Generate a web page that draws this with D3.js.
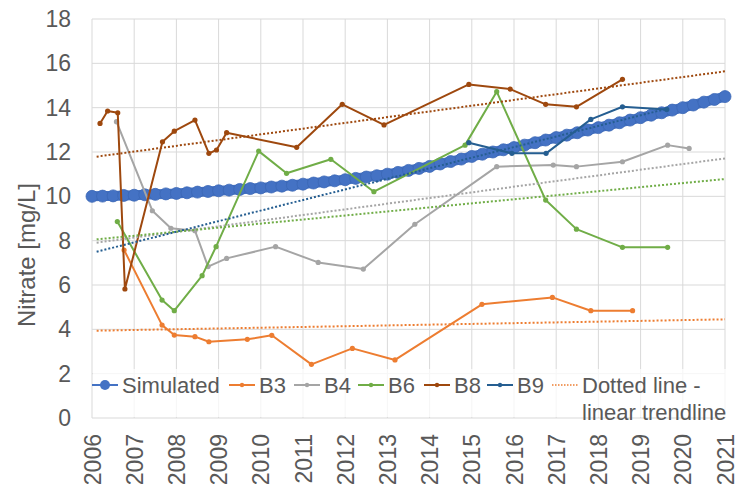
<!DOCTYPE html>
<html>
<head>
<meta charset="utf-8">
<script src="https://cdn.jsdelivr.net/npm/d3@7"></script>
<style>
  body { margin: 0; background: #fff; }
  svg { font-family: "Liberation Sans", Arial, sans-serif; }
</style>
</head>
<body>
<div id="vis"></div>
<script>
// chart size + plot area
const WIDTH = 738;
const HEIGHT = 495;
const PLOT = {left: 92, right: 725, top: 19, bottom: 418};

// axis ticks
const yTicks = [0, 2, 4, 6, 8, 10, 12, 14, 16, 18];
const years = [2006, 2007, 2008, 2009, 2010, 2011, 2012, 2013, 2014, 2015, 2016, 2017, 2018, 2019, 2020, 2021];

// simulated nitrate, quarterly from 2006
const simStart = 2006;
const simulated = [
  10.00, 10.01, 10.02, 10.04,
  10.05, 10.07, 10.09, 10.11,
  10.13, 10.16, 10.19, 10.22,
  10.25, 10.28, 10.31, 10.35,
  10.38, 10.42, 10.46, 10.50,
  10.55, 10.60, 10.65, 10.70,
  10.75, 10.81, 10.87, 10.93,
  11.00, 11.08, 11.17, 11.26,
  11.35, 11.46, 11.57, 11.68,
  11.80, 11.90, 12.00, 12.10,
  12.20, 12.31, 12.42, 12.54,
  12.65, 12.76, 12.87, 12.99,
  13.10, 13.21, 13.32, 13.44,
  13.55, 13.66, 13.77, 13.89,
  14.00, 14.12, 14.25, 14.37,
  14.50
];

// observed wells [year, mg/L]
const b3 = [[2006.76, 7.58], [2007.66, 4.19], [2007.95, 3.74], [2008.44, 3.67], [2008.77, 3.44],
  [2009.68, 3.55], [2010.26, 3.73], [2011.20, 2.42], [2012.17, 3.14], [2013.18, 2.62],
  [2015.24, 5.13], [2016.91, 5.44], [2017.82, 4.84], [2018.81, 4.84]];
const b4 = [[2006.58, 13.37], [2007.43, 9.35], [2007.87, 8.56], [2008.44, 8.45], [2008.75, 6.83],
  [2009.19, 7.20], [2010.35, 7.73], [2011.36, 7.02], [2012.43, 6.72], [2013.65, 8.74],
  [2015.59, 11.34], [2016.93, 11.41], [2017.48, 11.34], [2018.57, 11.56], [2019.64, 12.31], [2020.15, 12.16]];
const b6 = [[2006.60, 8.86], [2007.66, 5.32], [2007.95, 4.84], [2008.61, 6.42], [2008.94, 7.73],
  [2009.95, 12.04], [2010.61, 11.04], [2011.66, 11.67], [2012.68, 10.21], [2014.84, 12.31],
  [2015.59, 14.72], [2016.75, 9.83], [2017.48, 8.52], [2018.57, 7.70], [2019.64, 7.70]];
const b8 = [[2006.19, 13.29], [2006.37, 13.85], [2006.61, 13.77], [2006.78, 5.82], [2007.67, 12.46],
  [2007.95, 12.94], [2008.44, 13.44], [2008.77, 11.94], [2008.95, 12.09], [2009.19, 12.87],
  [2010.85, 12.21], [2011.93, 14.15], [2012.92, 13.22], [2014.93, 15.05], [2015.91, 14.84],
  [2016.75, 14.15], [2017.48, 14.04], [2018.57, 15.28]];
const b9 = [[2014.93, 12.42], [2015.95, 11.94], [2016.76, 11.94], [2017.82, 13.47], [2018.57, 14.04], [2019.62, 13.92]];

// linear trendlines, start and end [year, mg/L]
const trendB3 = [[2006.11, 3.94], [2021, 4.45]];
const trendB4 = [[2006.11, 7.91], [2021, 11.71]];
const trendB6 = [[2006.11, 8.06], [2021, 10.78]];
const trendB8 = [[2006.11, 11.79], [2021, 15.64]];
const trendB9 = [[2006.11, 7.50], [2019.62, 13.95]];

const COLORS = {sim: "#4472C4", b3: "#ED7D31", b4: "#A5A5A5", b6: "#70AD47", b8: "#9E480E", b9: "#255E91"};
const TEXT = "#595959";
const GRID = "#d9d9d9";

const svg = d3.select("#vis")
  .append("svg")
    .attr("width", WIDTH)
    .attr("height", HEIGHT);

const x = d3.scaleLinear().domain([2006, 2021]).range([PLOT.left, PLOT.right]);
const y = d3.scaleLinear().domain([0, 18]).range([PLOT.bottom, PLOT.top]);

// gridlines
svg.append("g")
  .selectAll("line")
  .data(yTicks)
  .enter()
  .append("line")
    .attr("x1", PLOT.left).attr("x2", PLOT.right)
    .attr("y1", (d) => y(d)).attr("y2", (d) => y(d))
    .attr("stroke", GRID).attr("stroke-width", 1);
svg.append("g")
  .selectAll("line")
  .data(years)
  .enter()
  .append("line")
    .attr("x1", (d) => x(d)).attr("x2", (d) => x(d))
    .attr("y1", PLOT.top).attr("y2", PLOT.bottom)
    .attr("stroke", GRID).attr("stroke-width", 1);

// y axis labels
const yAxis = svg.append("g")
  .attr("transform", "translate(" + (PLOT.left - 21) + ",0)")
  .call(d3.axisLeft(y).tickValues(yTicks).tickSize(0).tickPadding(0));
yAxis.select(".domain").remove();
yAxis.selectAll("text")
  .attr("font-size", 23)
  .attr("fill", TEXT)
  .attr("font-family", "Liberation Sans, Arial, sans-serif");

// x axis labels, rotated
const xAxis = svg.append("g")
  .attr("transform", "translate(0," + (PLOT.bottom + 16) + ")")
  .call(d3.axisBottom(x).tickValues(years).tickFormat(d3.format("d")).tickSize(0).tickPadding(0));
xAxis.select(".domain").remove();
xAxis.selectAll("text")
  .attr("font-size", 23)
  .attr("fill", TEXT)
  .attr("font-family", "Liberation Sans, Arial, sans-serif")
  .attr("transform", "rotate(-90)")
  .attr("x", 0)
  .attr("y", 0)
  .attr("dy", "0.35em")
  .style("text-anchor", "end");

// y title
svg.append("text")
  .attr("transform", "translate(27,255) rotate(-90)")
  .attr("text-anchor", "middle")
  .attr("dy", "0.35em")
  .attr("font-size", 24)
  .attr("fill", TEXT)
  .text("Nitrate [mg/L]");

const line = d3.line().x((d) => x(d[0])).y((d) => y(d[1]));

// simulated: thick run of big circles
const simData = simulated.map((v, i) => [simStart + i * 0.25, v]);
svg.append("path")
  .datum(simData)
  .attr("d", line)
  .attr("fill", "none")
  .attr("stroke", COLORS.sim)
  .attr("stroke-width", 10);
svg.append("g")
  .selectAll("circle")
  .data(simData)
  .enter()
  .append("circle")
    .attr("cx", (d) => x(d[0]))
    .attr("cy", (d) => y(d[1]))
    .attr("r", 6)
    .attr("fill", COLORS.sim)
    .attr("stroke", "#3b67b5")
    .attr("stroke-width", 0.8);

// observed series
const series = [
  {key: "b3", data: b3},
  {key: "b4", data: b4},
  {key: "b6", data: b6},
  {key: "b8", data: b8},
  {key: "b9", data: b9}
];
series.forEach((s) => {
  svg.append("path")
    .datum(s.data)
    .attr("d", line)
    .attr("fill", "none")
    .attr("stroke", COLORS[s.key])
    .attr("stroke-width", 2)
    .attr("stroke-linejoin", "round");
  svg.append("g")
    .selectAll("circle")
    .data(s.data)
    .enter()
    .append("circle")
      .attr("cx", (d) => x(d[0]))
      .attr("cy", (d) => y(d[1]))
      .attr("r", 2.6)
      .attr("fill", COLORS[s.key]);
});

// dotted trendlines
const trends = [
  {key: "b3", data: trendB3},
  {key: "b4", data: trendB4},
  {key: "b6", data: trendB6},
  {key: "b8", data: trendB8},
  {key: "b9", data: trendB9}
];
trends.forEach((t) => {
  svg.append("path")
    .datum(t.data)
    .attr("d", line)
    .attr("fill", "none")
    .attr("stroke", COLORS[t.key])
    .attr("stroke-width", 2)
    .attr("stroke-dasharray", "2,2");
});

// legend, sits inside the plot at the bottom
svg.append("rect")
  .attr("x", PLOT.left + 1)
  .attr("y", 369)
  .attr("width", PLOT.right - PLOT.left + 6)
  .attr("height", PLOT.bottom - 369 - 1)
  .attr("fill", "#fff")
  .attr("opacity", 0.75);

const legendItems = [
  {label: "Simulated", key: "sim", at: 92},
  {label: "B3", key: "b3", at: 229},
  {label: "B4", key: "b4", at: 294},
  {label: "B6", key: "b6", at: 358},
  {label: "B8", key: "b8", at: 424},
  {label: "B9", key: "b9", at: 487},
  {label: "Dotted line -", key: "trend", at: 552}
];
const LEG_Y = 385;
legendItems.forEach((it) => {
  const g = svg.append("g");
  const lx = it.at;
  if (it.key === "trend") {
    g.append("line")
      .attr("x1", lx).attr("x2", lx + 26)
      .attr("y1", LEG_Y).attr("y2", LEG_Y)
      .attr("stroke", COLORS.b3).attr("stroke-width", 1.5)
      .attr("stroke-dasharray", "1.5,1.5");
  } else {
    g.append("line")
      .attr("x1", lx).attr("x2", lx + 26)
      .attr("y1", LEG_Y).attr("y2", LEG_Y)
      .attr("stroke", COLORS[it.key]).attr("stroke-width", 2);
    g.append("circle")
      .attr("cx", lx + 13).attr("cy", LEG_Y)
      .attr("r", it.key === "sim" ? 5 : 2.2)
      .attr("fill", COLORS[it.key]);
  }
  g.append("text")
    .attr("x", lx + 30)
    .attr("y", LEG_Y)
    .attr("dy", "0.35em")
    .attr("font-size", 22)
    .attr("fill", TEXT)
    .text(it.label);
  if (it.key === "trend") {
    g.append("text")
      .attr("x", lx + 30)
      .attr("y", LEG_Y + 27)
      .attr("dy", "0.35em")
      .attr("font-size", 22)
      .attr("fill", TEXT)
      .text("linear trendline");
  }
});
</script>
</body>
</html>
